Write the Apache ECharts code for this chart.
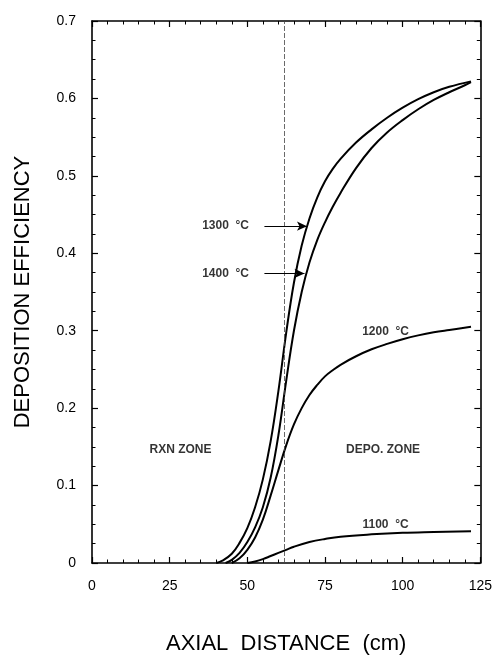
<!DOCTYPE html>
<html>
<head>
<meta charset="utf-8">
<script src="https://cdn.jsdelivr.net/npm/echarts@6/dist/echarts.min.js"></script>
<style>
  html, body { margin: 0; padding: 0; background: #fff; }
  #chart { width: 495px; height: 660px; }
</style>
</head>
<body>
<div id="chart"></div>
<script>
// axial distance (cm) / deposition efficiency
var dist1300 = [40, 42, 45, 47.5, 50, 52.5, 55, 57.5, 60, 62.5, 65, 67.5, 70, 72.5, 75, 77.5, 80, 85, 90, 95, 100, 105, 110, 115, 122];
var eff1300  = [0, 0.003, 0.012, 0.026, 0.045, 0.072, 0.108, 0.157, 0.222, 0.297, 0.362, 0.41, 0.445, 0.472, 0.493, 0.509, 0.522, 0.543, 0.56, 0.575, 0.588, 0.599, 0.608, 0.615, 0.622];

var dist1400 = [43, 45, 47.5, 50, 52.5, 55, 57.5, 60, 62.5, 65, 67.5, 70, 72.5, 75, 77.5, 80, 85, 90, 95, 100, 105, 110, 115, 120, 122];
var eff1400  = [0, 0.004, 0.013, 0.027, 0.046, 0.072, 0.11, 0.165, 0.235, 0.3, 0.35, 0.388, 0.417, 0.44, 0.46, 0.478, 0.51, 0.536, 0.556, 0.572, 0.586, 0.598, 0.608, 0.617, 0.621];

var dist1200 = [45, 47.5, 50, 52.5, 55, 57.5, 60, 62.5, 65, 67.5, 70, 72.5, 75, 77.5, 80, 85, 90, 95, 100, 105, 110, 115, 122];
var eff1200  = [0, 0.006, 0.017, 0.033, 0.056, 0.087, 0.12, 0.152, 0.179, 0.2, 0.217, 0.23, 0.241, 0.249, 0.256, 0.267, 0.276, 0.283, 0.289, 0.294, 0.298, 0.301, 0.305];

var dist1100 = [50, 52.5, 55, 57.5, 60, 62.5, 65, 70, 75, 80, 90, 100, 110, 122];
var eff1100  = [0, 0.002, 0.005, 0.009, 0.013, 0.017, 0.021, 0.027, 0.031, 0.034, 0.037, 0.039, 0.04, 0.041];

var xTicks = [0, 25, 50, 75, 100, 125];
var yTicks = [0, 0.1, 0.2, 0.3, 0.4, 0.5, 0.6, 0.7];

// boundary between reaction and deposition zone
var zoneEdge = 62;

// curve labels and zone labels [x, y, text]
var textLabels = [
  [43, 0.435, '1300  °C'],
  [43, 0.374, '1400  °C'],
  [94.5, 0.299, '1200  °C'],
  [94.5, 0.049, '1100  °C'],
  [28.5, 0.146, 'RXN ZONE'],
  [93.7, 0.146, 'DEPO. ZONE']
];
// arrows from labels to curves [x0, x1, y]
var arrows = [
  [55.5, 69.2, 0.435],
  [55.5, 68.4, 0.374]
];

function pairs(xs, ys) {
  var out = [];
  for (var i = 0; i < xs.length; i++) {
    out.push([xs[i], ys[i]]);
  }
  return out;
}

var font = 'Liberation Sans, Arial, Helvetica, sans-serif';

var chart = echarts.init(document.getElementById('chart'), null, { renderer: 'canvas' });

var curveStyle = { color: '#000', width: 2 };

function curve(name, xs, ys) {
  return {
    name: name,
    type: 'line',
    smooth: 0.4,
    showSymbol: false,
    silent: true,
    lineStyle: curveStyle,
    data: pairs(xs, ys)
  };
}

var axisBase = {
  type: 'value',
  splitLine: { show: false },
  axisLine: { show: true, onZero: false, lineStyle: { color: '#000', width: 1.6 } },
  axisTick: { show: true, inside: true, length: 6, lineStyle: { color: '#000', width: 1.2 } },
  minorTick: { show: true, length: 3.5, lineStyle: { color: '#000', width: 1 } }
};

var option = {
  backgroundColor: '#fff',
  animation: false,
  grid: { left: 92, right: 12, top: 21, bottom: 93 },
  xAxis: [
    Object.assign({}, axisBase, {
      position: 'bottom',
      min: xTicks[0], max: xTicks[xTicks.length - 1], interval: 25,
      minorTick: Object.assign({}, axisBase.minorTick, { splitNumber: 5 }),
      axisLabel: { color: '#000', fontFamily: font, fontSize: 14, margin: 16 },
      name: 'AXIAL  DISTANCE  (cm)',
      nameLocation: 'middle',
      nameGap: 70,
      nameTextStyle: { color: '#000', fontFamily: font, fontSize: 22 }
    }),
    Object.assign({}, axisBase, {
      position: 'top',
      min: xTicks[0], max: xTicks[xTicks.length - 1], interval: 25,
      minorTick: Object.assign({}, axisBase.minorTick, { splitNumber: 5 }),
      axisLabel: { show: false }
    })
  ],
  yAxis: [
    Object.assign({}, axisBase, {
      position: 'left',
      min: yTicks[0], max: yTicks[yTicks.length - 1], interval: 0.1,
      minorTick: Object.assign({}, axisBase.minorTick, { splitNumber: 4 }),
      axisLabel: {
        color: '#000', fontFamily: font, fontSize: 14, margin: 16,
        formatter: function (v) { return v === 0 ? '0' : v.toFixed(1); }
      },
      name: 'DEPOSITION EFFICIENCY',
      nameLocation: 'middle',
      nameGap: 58,
      nameRotate: 90,
      nameTextStyle: { color: '#000', fontFamily: font, fontSize: 22 }
    }),
    Object.assign({}, axisBase, {
      position: 'right',
      min: yTicks[0], max: yTicks[yTicks.length - 1], interval: 0.1,
      minorTick: Object.assign({}, axisBase.minorTick, { splitNumber: 4 }),
      axisLabel: { show: false }
    })
  ],
  series: [
    curve('1300', dist1300, eff1300),
    curve('1400', dist1400, eff1400),
    curve('1200', dist1200, eff1200),
    curve('1100', dist1100, eff1100),
    {
      // zone divider
      type: 'line',
      data: [],
      silent: true,
      markLine: {
        silent: true,
        symbol: ['none', 'none'],
        label: { show: false },
        lineStyle: { color: '#444', width: 0.8, type: [5, 2] },
        data: [
          [{ coord: [zoneEdge, 0] }, { coord: [zoneEdge, 0.7] }]
        ]
      }
    },
    {
      // arrows to the 1300 / 1400 curves
      type: 'line',
      data: [],
      silent: true,
      markLine: {
        silent: true,
        symbol: ['none', 'arrow'],
        symbolSize: [7, 10],
        label: { show: false },
        lineStyle: { color: '#000', width: 1, type: 'solid' },
        data: arrows.map(function (a) {
          return [{ coord: [a[0], a[2]] }, { coord: [a[1], a[2]] }];
        })
      }
    },
    {
      type: 'scatter',
      symbolSize: 0,
      silent: true,
      data: textLabels.map(function (t) {
        return { value: [t[0], t[1]], name: t[2] };
      }),
      label: {
        show: true,
        position: 'inside',
        formatter: '{b}',
        color: '#000',
        fontFamily: font,
        fontWeight: 'bold',
        fontSize: 12
      }
    }
  ]
};

chart.setOption(option);
</script>
</body>
</html>
